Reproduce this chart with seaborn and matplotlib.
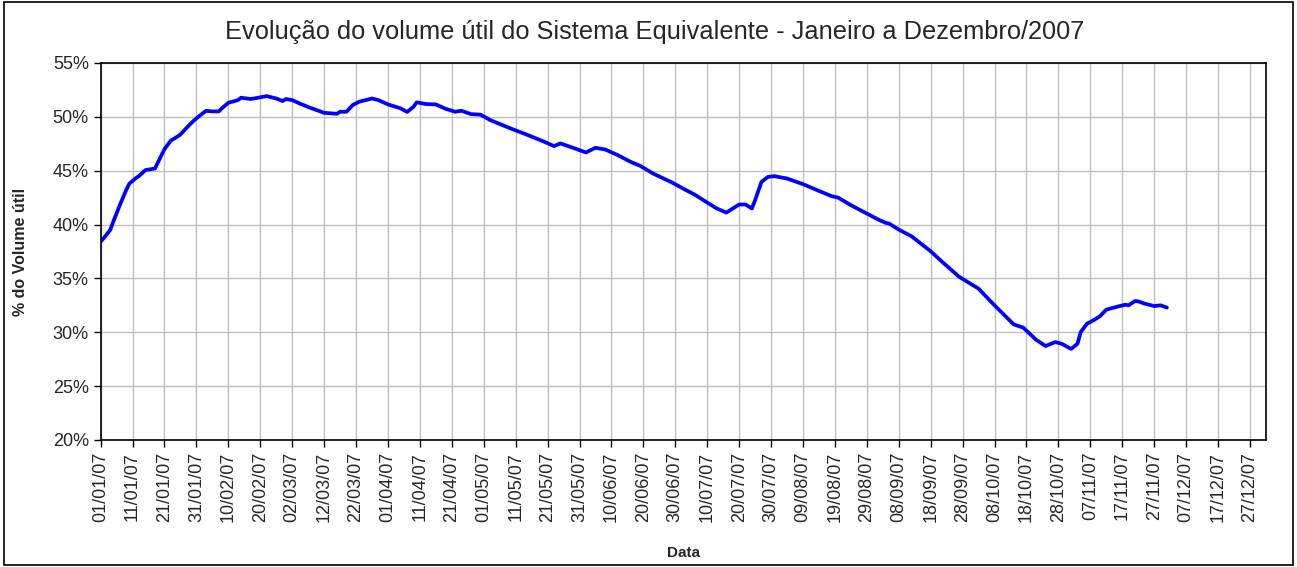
import numpy as np
import pandas as pd
import seaborn as sns
import matplotlib.pyplot as plt
import matplotlib.dates as mdates
from matplotlib.patches import Rectangle

# days since 01/01/2007 and % of useful volume
dias = [0, 1, 3, 4, 6, 8, 9, 11, 12, 14, 15, 17, 19, 20, 22, 24, 25, 27, 29, 31,
        33, 35, 37, 38, 40, 43, 44, 47, 49, 52, 55, 57, 58, 60, 63, 66, 70, 73, 74, 75,
        77, 79, 81, 83, 85, 87, 90, 94, 96, 98, 99, 102, 105, 108, 111, 113, 116, 119, 122, 129,
        133, 139, 142, 144, 148, 152, 155, 158, 162, 166, 169, 173, 179, 183, 186, 190, 193, 196, 200, 202,
        204, 205, 207, 209, 211, 215, 220, 225, 229, 231, 235, 240, 244, 246, 247, 250, 254, 260, 264, 269,
        275, 280, 286, 289, 293, 296, 299, 301, 304, 306, 307, 309, 311, 313, 315, 318, 321, 322, 324, 325,
        327, 330, 332, 334]
volume = [38.4, 38.75, 39.5, 40.3, 41.8, 43.2, 43.8, 44.3, 44.5, 45.05, 45.1, 45.2, 46.4, 47.0, 47.8, 48.15, 48.36, 49.0, 49.6, 50.1,
          50.55, 50.5, 50.5, 50.8, 51.3, 51.55, 51.77, 51.65, 51.75, 51.92, 51.7, 51.46, 51.65, 51.55, 51.15, 50.8, 50.37, 50.3, 50.28, 50.47,
          50.47, 51.1, 51.4, 51.55, 51.7, 51.55, 51.15, 50.78, 50.45, 50.93, 51.34, 51.18, 51.15, 50.75, 50.47, 50.56, 50.25, 50.2, 49.7, 48.85,
          48.4, 47.68, 47.28, 47.53, 47.12, 46.69, 47.12, 46.97, 46.44, 45.82, 45.45, 44.74, 43.9, 43.25, 42.79, 42.04, 41.49, 41.11, 41.86, 41.86,
          41.49, 42.26, 43.96, 44.42, 44.49, 44.27, 43.75, 43.12, 42.63, 42.5, 41.8, 41.02, 40.4, 40.15, 40.09, 39.53, 38.91, 37.52, 36.43, 35.13,
          34.05, 32.5, 30.73, 30.43, 29.31, 28.72, 29.09, 28.94, 28.45, 28.94, 30.02, 30.8, 31.11, 31.48, 32.1, 32.34, 32.56, 32.5, 32.9, 32.87,
          32.66, 32.43, 32.5, 32.29]

titulo = 'Evolução do volume útil do Sistema Equivalente - Janeiro a Dezembro/2007'
y_ticks = [20, 25, 30, 35, 40, 45, 50, 55]

df = pd.DataFrame({'Data': pd.Timestamp('2007-01-01') + pd.to_timedelta(dias, unit='D'),
                   'Volume': volume})

sns.set_style('white')
plt.rcParams['font.family'] = ['Liberation Sans', 'DejaVu Sans']

fig = plt.figure(figsize=(12.97, 5.67), dpi=100)
ax = fig.add_axes([0.0776, 0.224, 0.8984, 0.665])

sns.lineplot(data=df, x='Data', y='Volume', ax=ax, color='#0000ff', linewidth=2.7)

ax.set_xlim(pd.Timestamp('2007-01-01'), pd.Timestamp('2008-01-01'))
ax.set_ylim(20, 55)
xt = pd.date_range('2007-01-01', '2007-12-27', freq='10D')
ax.set_xticks(xt)
ax.xaxis.set_major_formatter(mdates.DateFormatter('%d/%m/%y'))
ax.set_yticks(y_ticks)
ax.set_yticklabels([f'{v}%' for v in y_ticks])
ax.tick_params(axis='x', rotation=90, labelsize=13, length=5, width=1, color='black', direction='out', bottom=True)
ax.tick_params(axis='y', labelsize=13, length=5, width=1, color='black', direction='out', left=True)
ax.grid(True, color='#c0c0c0', linewidth=1)
for s in ax.spines.values():
    s.set_color('black')
    s.set_linewidth(1.2)

ax.set_xlabel('Data', fontsize=11, fontweight='bold')
ax.set_ylabel('% do Volume útil', fontsize=11.5, fontweight='bold')
ax.xaxis.set_label_coords(0.5, -0.281)
ax.yaxis.set_label_coords(-0.062, 0.5)
fig.text(0.5046, 0.943, titulo, ha='center', va='center', fontsize=18.3)

fig.patches.append(Rectangle((0.003, 0.003), 0.994, 0.994, transform=fig.transFigure,
                             fill=False, edgecolor='black', linewidth=1.2))

fig.savefig('out.png', dpi=100)
